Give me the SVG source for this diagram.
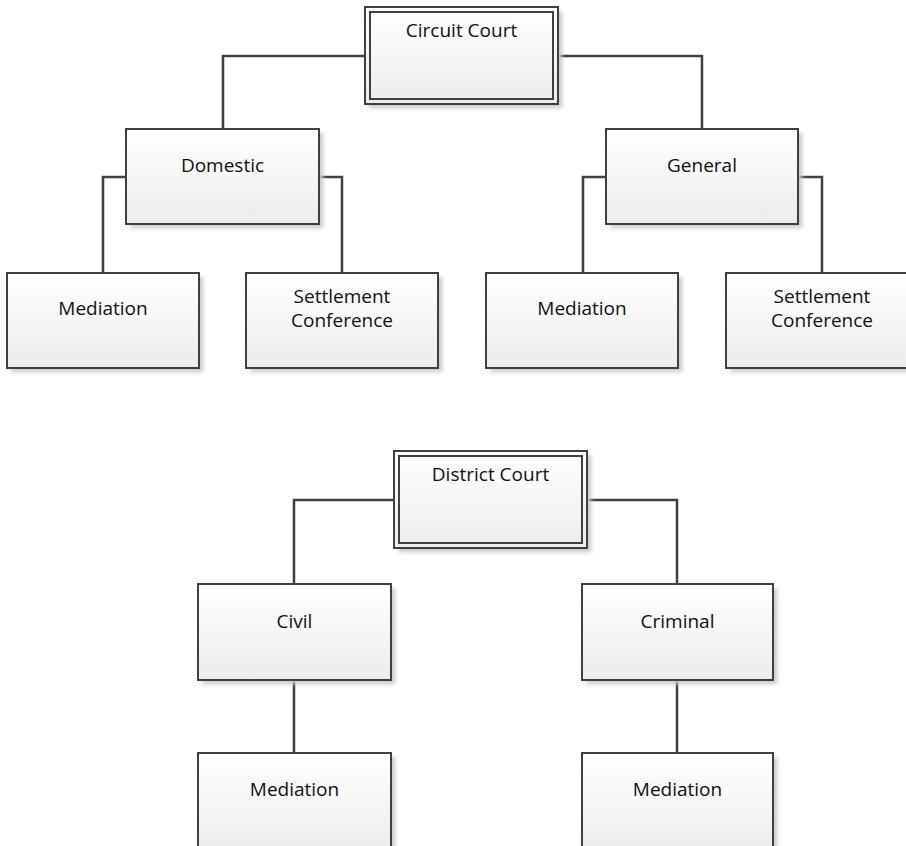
<svg xmlns="http://www.w3.org/2000/svg" width="906" height="846" viewBox="0 0 906 846">
<defs>
<linearGradient id="g" x1="0" y1="0" x2="0" y2="1">
<stop offset="0" stop-color="#ffffff"/>
<stop offset="1" stop-color="#ececec"/>
</linearGradient>
<filter id="sh" x="-10%" y="-10%" width="130%" height="130%">
<feGaussianBlur stdDeviation="2"/>
</filter>
</defs>
<style>
.box{fill:url(#g);stroke:#404040;stroke-width:2}
.inner{fill:none;stroke:#404040;stroke-width:2}
.shadow{fill:#c8c8c8;filter:url(#sh)}
.t{font-family:"Open Sans","Liberation Sans",sans-serif;font-size:19px;fill:#111;text-anchor:middle}
.c{fill:none;stroke:#404040;stroke-width:2.5}
</style>
<rect width="906" height="846" fill="#ffffff"/>
<g id="connectors">
<path class="c" d="M365,56 H223 V129"/>
<path class="c" d="M558,56 H702 V129"/>
<path class="c" d="M126,177 H103 V273"/>
<path class="c" d="M319,177 H342 V273"/>
<path class="c" d="M606,177 H583 V273"/>
<path class="c" d="M798,177 H822 V273"/>
<path class="c" d="M394,500 H294 V584"/>
<path class="c" d="M587,500 H677 V584"/>
<path class="c" d="M294,680 V753"/>
<path class="c" d="M677,680 V753"/>
</g>
<g id="circuit-court">
<rect class="shadow" x="369" y="11" width="193" height="97"/>
<rect class="box" x="365" y="7" width="193" height="97"/>
<rect class="inner" x="370" y="12" width="183" height="87"/>
<text class="t" x="461.5" y="37">Circuit Court</text>
</g>
<g id="domestic">
<rect class="shadow" x="130" y="133" width="193" height="95"/>
<rect class="box" x="126" y="129" width="193" height="95"/>
<text class="t" x="222.5" y="172">Domestic</text>
</g>
<g id="general">
<rect class="shadow" x="610" y="133" width="192" height="95"/>
<rect class="box" x="606" y="129" width="192" height="95"/>
<text class="t" x="702" y="172">General</text>
</g>
<g id="domestic-mediation">
<rect class="shadow" x="11" y="277" width="192" height="95"/>
<rect class="box" x="7" y="273" width="192" height="95"/>
<text class="t" x="103" y="315">Mediation</text>
</g>
<g id="domestic-settlement">
<rect class="shadow" x="250" y="277" width="192" height="95"/>
<rect class="box" x="246" y="273" width="192" height="95"/>
<text class="t" x="342" y="303">Settlement</text>
<text class="t" x="342" y="327">Conference</text>
</g>
<g id="general-mediation">
<rect class="shadow" x="490" y="277" width="192" height="95"/>
<rect class="box" x="486" y="273" width="192" height="95"/>
<text class="t" x="582" y="315">Mediation</text>
</g>
<g id="general-settlement">
<rect class="shadow" x="730" y="277" width="192" height="95"/>
<rect class="box" x="726" y="273" width="192" height="95"/>
<text class="t" x="822" y="303">Settlement</text>
<text class="t" x="822" y="327">Conference</text>
</g>
<g id="district-court">
<rect class="shadow" x="398" y="455" width="193" height="97"/>
<rect class="box" x="394" y="451" width="193" height="97"/>
<rect class="inner" x="399" y="456" width="183" height="87"/>
<text class="t" x="490.5" y="481">District Court</text>
</g>
<g id="civil">
<rect class="shadow" x="202" y="588" width="193" height="96"/>
<rect class="box" x="198" y="584" width="193" height="96"/>
<text class="t" x="294.5" y="628">Civil</text>
</g>
<g id="criminal">
<rect class="shadow" x="586" y="588" width="191" height="96"/>
<rect class="box" x="582" y="584" width="191" height="96"/>
<text class="t" x="677.5" y="628">Criminal</text>
</g>
<g id="civil-mediation">
<rect class="shadow" x="202" y="757" width="193" height="100"/>
<rect class="box" x="198" y="753" width="193" height="100"/>
<text class="t" x="294.5" y="796">Mediation</text>
</g>
<g id="criminal-mediation">
<rect class="shadow" x="586" y="757" width="191" height="100"/>
<rect class="box" x="582" y="753" width="191" height="100"/>
<text class="t" x="677.5" y="796">Mediation</text>
</g>
</svg>
